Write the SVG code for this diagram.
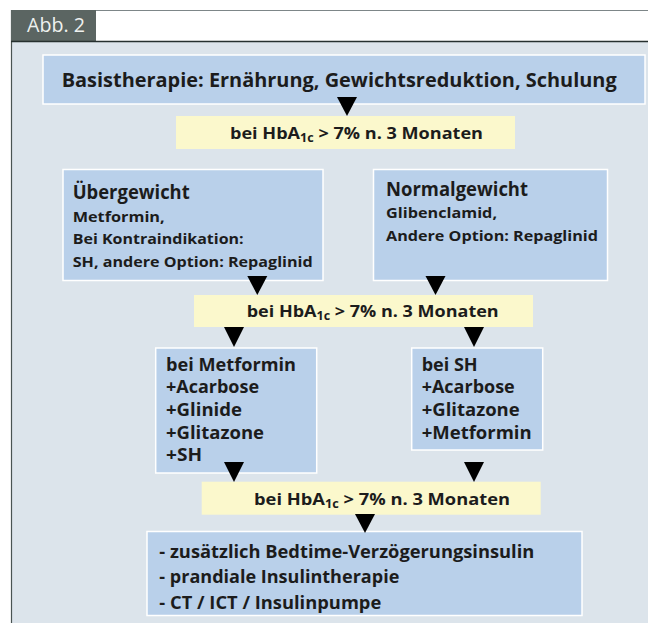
<svg xmlns="http://www.w3.org/2000/svg" width="648" height="623" viewBox="0 0 648 623">
<style>
.t{font-family:"Open Sans","Noto Sans","Liberation Sans",sans-serif;font-weight:bold;fill:#1c1c1c}
.blue{fill:#b9d0ea;stroke:#ffffff;stroke-width:1.5}
.yel{fill:#fbf8cc}
.arr{fill:#000000}
</style>
<rect x="0" y="0" width="648" height="623" fill="#ffffff"/>
<g id="frame">
<rect x="11" y="41" width="637" height="582" fill="#dce4eb"/>
<line x1="11" y1="10.5" x2="648" y2="10.5" stroke="#7d8688" stroke-width="1.2"/>
<line x1="11.5" y1="10" x2="11.5" y2="623" stroke="#4a5452" stroke-width="1.2"/>
<rect x="11" y="10" width="85" height="31" fill="#5b6562"/>
<line x1="11" y1="41.5" x2="648" y2="41.5" stroke="#26302f" stroke-width="1.5"/>
<text x="27" y="32.3" font-family="'Open Sans','Noto Sans',sans-serif" font-size="19.5" fill="#eef1ef" textLength="58" lengthAdjust="spacingAndGlyphs">Abb. 2</text>
</g>
<g id="basis">
<rect class="blue" x="43" y="55" width="602" height="49"/>
<text class="t" x="61.7" y="86.7" font-size="19.5" textLength="555" lengthAdjust="spacingAndGlyphs">Basistherapie: Ernährung, Gewichtsreduktion, Schulung</text>
</g>
<g id="cond1">
<rect class="yel" x="176" y="116" width="339" height="33"/>
<text class="t" x="230" y="138.7" font-size="16.5" textLength="253" lengthAdjust="spacingAndGlyphs">bei HbA<tspan font-size="11.5" dy="3">1c</tspan><tspan dy="-3"> &gt; 7% n. 3 Monaten</tspan></text>
</g>
<g id="uebergewicht">
<rect class="blue" x="63" y="169.5" width="260" height="111"/>
<text class="t" x="72.7" y="199.3" font-size="19.5" textLength="117" lengthAdjust="spacingAndGlyphs">Übergewicht</text>
<text class="t" x="72.7" y="221.7" font-size="15" textLength="92" lengthAdjust="spacingAndGlyphs">Metformin,</text>
<text class="t" x="72.7" y="244" font-size="15" textLength="171" lengthAdjust="spacingAndGlyphs">Bei Kontraindikation:</text>
<text class="t" x="72.7" y="266.7" font-size="15" textLength="240" lengthAdjust="spacingAndGlyphs">SH, andere Option: Repaglinid</text>
</g>
<g id="normalgewicht">
<rect class="blue" x="373.5" y="169.5" width="234" height="111"/>
<text class="t" x="386" y="195.7" font-size="19.5" textLength="142" lengthAdjust="spacingAndGlyphs">Normalgewicht</text>
<text class="t" x="386" y="218.3" font-size="15" textLength="111" lengthAdjust="spacingAndGlyphs">Glibenclamid,</text>
<text class="t" x="386" y="241" font-size="15" textLength="212" lengthAdjust="spacingAndGlyphs">Andere Option: Repaglinid</text>
</g>
<g id="cond2">
<rect class="yel" x="194" y="295" width="339" height="32"/>
<text class="t" x="246.7" y="317" font-size="16.5" textLength="252" lengthAdjust="spacingAndGlyphs">bei HbA<tspan font-size="11.5" dy="3">1c</tspan><tspan dy="-3"> &gt; 7% n. 3 Monaten</tspan></text>
</g>
<g id="metformin">
<rect class="blue" x="155.7" y="348" width="161" height="125"/>
<text class="t" x="166" y="370.7" font-size="17.5" textLength="130" lengthAdjust="spacingAndGlyphs">bei Metformin</text>
<text class="t" x="166" y="393.3" font-size="17.5" textLength="93" lengthAdjust="spacingAndGlyphs">+Acarbose</text>
<text class="t" x="166" y="416" font-size="17.5" textLength="76" lengthAdjust="spacingAndGlyphs">+Glinide</text>
<text class="t" x="166" y="438.7" font-size="17.5" textLength="98" lengthAdjust="spacingAndGlyphs">+Glitazone</text>
<text class="t" x="166" y="460.7" font-size="17.5" textLength="36" lengthAdjust="spacingAndGlyphs">+SH</text>
</g>
<g id="sh">
<rect class="blue" x="411.7" y="348" width="131" height="102"/>
<text class="t" x="421.7" y="370.7" font-size="17.5" textLength="56" lengthAdjust="spacingAndGlyphs">bei SH</text>
<text class="t" x="421.7" y="393.3" font-size="17.5" textLength="93" lengthAdjust="spacingAndGlyphs">+Acarbose</text>
<text class="t" x="421.7" y="416" font-size="17.5" textLength="98" lengthAdjust="spacingAndGlyphs">+Glitazone</text>
<text class="t" x="421.7" y="438.7" font-size="17.5" textLength="110" lengthAdjust="spacingAndGlyphs">+Metformin</text>
</g>
<g id="cond3">
<rect class="yel" x="201.7" y="481.7" width="339" height="33"/>
<text class="t" x="254" y="505" font-size="16.5" textLength="256" lengthAdjust="spacingAndGlyphs">bei HbA<tspan font-size="11.5" dy="3">1c</tspan><tspan dy="-3">  &gt; 7% n. 3 Monaten</tspan></text>
</g>
<g id="insulin">
<rect class="blue" x="147" y="531.5" width="435" height="84"/>
<text class="t" x="159.3" y="557.7" font-size="18" textLength="375" lengthAdjust="spacingAndGlyphs">- zusätzlich Bedtime-Verzögerungsinsulin</text>
<text class="t" x="159.3" y="583.3" font-size="18" textLength="240" lengthAdjust="spacingAndGlyphs">- prandiale Insulintherapie</text>
<text class="t" x="159.3" y="609.3" font-size="18" textLength="222" lengthAdjust="spacingAndGlyphs">- CT / ICT / Insulinpumpe</text>
</g>
<g id="connectors">
<polygon class="arr" points="337,97 357,97 347,116"/>
<polygon class="arr" points="247.3,276 267.3,276 257.3,295"/>
<polygon class="arr" points="425.5,276 445.5,276 435.5,295"/>
<polygon class="arr" points="224,327 244,327 234,347"/>
<polygon class="arr" points="464,327 484,327 474,347"/>
<polygon class="arr" points="224,462 244,462 234,482"/>
<polygon class="arr" points="464,462 484,462 474,482"/>
<polygon class="arr" points="355,514 375,514 365,533"/>
</g>
</svg>
